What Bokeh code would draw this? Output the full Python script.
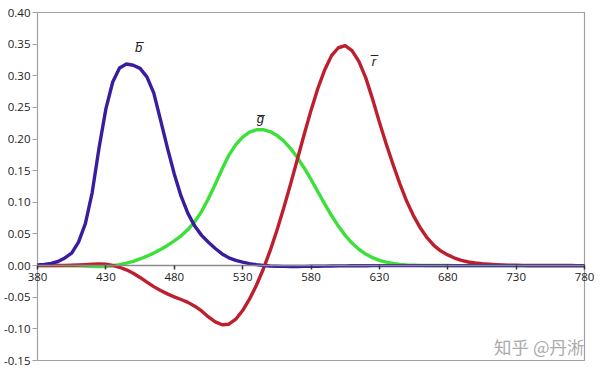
from bokeh.plotting import figure
from bokeh.models import Range1d, FixedTicker, Label, CustomJSTickFormatter
from bokeh.embed import file_html
from bokeh.resources import INLINE

wavelength = [380, 385, 390, 395, 400, 405, 410, 415, 420, 425, 430, 435, 440, 445,
              450, 455, 460, 465, 470, 475, 480, 485, 490, 495, 500, 505, 510, 515,
              520, 525, 530, 535, 540, 545, 550, 555, 560, 565, 570, 575, 580, 585,
              590, 595, 600, 605, 610, 615, 620, 625, 630, 635, 640, 645, 650, 655,
              660, 665, 670, 675, 680, 685, 690, 695, 700, 705, 710, 715, 720, 725,
              730, 735, 740, 745, 750, 755, 760, 765, 770, 775, 780]
r_bar = [0.00003, 0.00005, 0.00010, 0.00017, 0.00030, 0.00047, 0.00084, 0.00139,
         0.00211, 0.00266, 0.00218, 0.00036, -0.00261, -0.00673, -0.01213, -0.01874,
         -0.02608, -0.03324, -0.03933, -0.04471, -0.04939, -0.05364, -0.05814, -0.06414,
         -0.07173, -0.08120, -0.08901, -0.09356, -0.09264, -0.08473, -0.07101, -0.05316,
         -0.03152, -0.00613, 0.02279, 0.05514, 0.09060, 0.12840, 0.16768, 0.20715,
         0.24526, 0.27989, 0.30928, 0.33184, 0.34429, 0.34756, 0.33971, 0.32265,
         0.29708, 0.26348, 0.22677, 0.19233, 0.15968, 0.12905, 0.10167, 0.07857,
         0.05932, 0.04366, 0.03149, 0.02294, 0.01687, 0.01187, 0.00819, 0.00572,
         0.00410, 0.00291, 0.00210, 0.00148, 0.00105, 0.00074, 0.00052, 0.00036,
         0.00025, 0.00017, 0.00012, 0.00008, 0.00006, 0.00004, 0.00003, 0.00001, 0.0]
g_bar = [-0.00001, -0.00002, -0.00004, -0.00007, -0.00014, -0.00022, -0.00041, -0.00070,
         -0.00110, -0.00143, -0.00119, -0.00021, 0.00149, 0.00379, 0.00678, 0.01046,
         0.01485, 0.01977, 0.02538, 0.03183, 0.03914, 0.04713, 0.05689, 0.06948,
         0.08536, 0.10593, 0.12860, 0.15262, 0.17468, 0.19113, 0.20317, 0.21083,
         0.21466, 0.21487, 0.21178, 0.20588, 0.19702, 0.18522, 0.17087, 0.15429,
         0.13610, 0.11686, 0.09754, 0.07909, 0.06246, 0.04776, 0.03557, 0.02583,
         0.01828, 0.01253, 0.00833, 0.00537, 0.00334, 0.00199, 0.00116, 0.00066,
         0.00037, 0.00021, 0.00011, 0.00006, 0.00003, 0.00001, 0.0, 0.0,
         0.0, 0.0, 0.0, 0.0, 0.0, 0.0, 0.0, 0.0,
         0.0, 0.0, 0.0, 0.0, 0.0, 0.0, 0.0, 0.0, 0.0]
b_bar = [0.00117, 0.00189, 0.00359, 0.00647, 0.01214, 0.01969, 0.03707, 0.06637,
         0.11541, 0.18575, 0.24769, 0.29012, 0.31228, 0.31860, 0.31670, 0.31166,
         0.29821, 0.27295, 0.22991, 0.18592, 0.14494, 0.10968, 0.08257, 0.06246,
         0.04776, 0.03688, 0.02698, 0.01842, 0.01221, 0.00830, 0.00549, 0.00320,
         0.00146, 0.00023, -0.00058, -0.00105, -0.00130, -0.00138, -0.00135, -0.00123,
         -0.00108, -0.00093, -0.00079, -0.00063, -0.00049, -0.00038, -0.00030, -0.00022,
         -0.00015, -0.00011, -0.00008, -0.00005, -0.00003, -0.00002, -0.00001, -0.00001,
         0.0, 0.0, 0.0, 0.0, 0.0, 0.0, 0.0, 0.0,
         0.0, 0.0, 0.0, 0.0, 0.0, 0.0, 0.0, 0.0,
         0.0, 0.0, 0.0, 0.0, 0.0, 0.0, 0.0, 0.0, 0.0]

x_ticks = [380, 430, 480, 530, 580, 630, 680, 730, 780]
y_ticks = [-0.15, -0.10, -0.05, 0.0, 0.05, 0.10, 0.15, 0.20, 0.25, 0.30, 0.35, 0.40]

curve_labels = ["b\u0305", "g\u0305", "r\u0305"]
label_x = [454, 543, 626]
label_y = [0.344, 0.232, 0.322]

FONT = "Open Sans"
W, H = 600, 373
# plot box in pixels: left 37, right 584, top 12, bottom 360
px_per_x = (584 - 37) / (x_ticks[-1] - x_ticks[0])
px_per_y = (360 - 12) / (y_ticks[-1] - y_ticks[0])
x_start = x_ticks[0] - 37 / px_per_x
x_end = x_start + W / px_per_x
y_end = y_ticks[-1] + 12 / px_per_y
y_start = y_end - H / px_per_y

p = figure(width=W, height=H, output_backend="svg", toolbar_location=None,
           x_range=Range1d(x_start, x_end), y_range=Range1d(y_start, y_end),
           min_border=0, min_border_left=0, min_border_right=0,
           min_border_top=0, min_border_bottom=0)
p.background_fill_color = "white"
p.border_fill_color = "white"
p.outline_line_color = None
p.grid.visible = False

# plot box
p.quad(left=x_ticks[0], right=x_ticks[-1], bottom=y_ticks[0], top=y_ticks[-1],
       fill_color=None, line_color="#a0a0a0", line_width=1.2)

p.line(wavelength, g_bar, line_color="#3ddf3a", line_width=3.4, line_join="round")
p.line(wavelength, r_bar, line_color="#be1f2e", line_width=3.4, line_join="round")
p.line(wavelength, b_bar, line_color="#3a1c9e", line_width=3.4, line_join="round")

# y axis at x = 380
ya = p.yaxis[0]
ya.fixed_location = x_ticks[0]
ya.bounds = (y_ticks[0], y_ticks[-1])
ya.ticker = FixedTicker(ticks=y_ticks)
ya.formatter = CustomJSTickFormatter(code="return tick.toFixed(2);")
ya.axis_line_color = None
ya.major_tick_line_color = "#a0a0a0"
ya.major_tick_out = 5
ya.major_tick_in = 0
ya.minor_tick_line_color = None
ya.major_label_text_font = FONT
ya.major_label_text_font_size = "11.5px"
ya.major_label_text_color = "#222222"
ya.major_label_standoff = 2

# x axis at y = 0
xa = p.xaxis[0]
xa.fixed_location = 0
xa.bounds = (x_ticks[0], x_ticks[-1])
xa.ticker = FixedTicker(ticks=x_ticks)
xa.axis_line_color = "#8c8c8c"
xa.axis_line_width = 1.5
xa.major_tick_line_color = "#333333"
xa.major_tick_line_width = 1.5
xa.major_tick_out = 4
xa.major_tick_in = 0
xa.minor_tick_line_color = None
xa.major_label_text_font = FONT
xa.major_label_text_font_size = "11.5px"
xa.major_label_text_color = "#222222"
xa.major_label_standoff = 3

p.text(x=label_x, y=label_y, text=curve_labels, text_font_size="13px",
       text_font_style="italic", text_align="center", text_baseline="middle",
       text_color="#222222")

wm = Label(x=x_ticks[-1], y=y_ticks[0], text="知乎 @丹淅", x_offset=0, y_offset=2,
           text_font="Noto Sans CJK SC", text_font_size="17.5px", text_color="#ababab",
           text_align="right", text_baseline="bottom")
p.add_layout(wm)

open("out.html", "w").write(file_html(p, INLINE))
